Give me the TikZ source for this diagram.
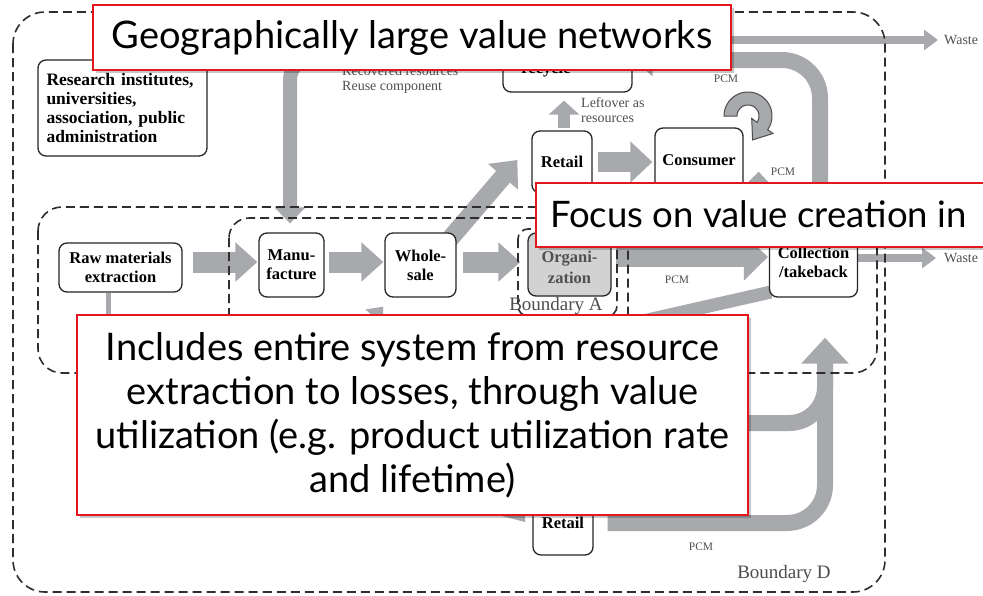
\documentclass[tikz,border=0pt]{standalone}
\usepackage{fontspec}
\setmainfont{Liberation Serif}
\newfontfamily\latofont{Lato}
\usetikzlibrary{arrows.meta,shadows,calc}
\pgfdeclarelayer{bg}
\pgfsetlayers{bg,main}
\definecolor{bandgray}{HTML}{A7A9AC}
\definecolor{bndgray}{HTML}{2E2E2E}
\definecolor{lblgray}{HTML}{505050}
\definecolor{calred}{HTML}{E3161E}
\definecolor{orgfill}{HTML}{D2D2D2}
\begin{document}
\begin{tikzpicture}[x=1pt,y=-1pt,
  box/.style={draw=black!85, line width=1.3pt, rounded corners=8pt, fill=white,
    font=\fontsize{16.5}{19}\selectfont\bfseries, align=center, inner sep=0pt},
  bound/.style={draw=bndgray, line width=1.6pt, dash pattern=on 9pt off 5pt},
  flow/.style={draw=bandgray},
  lab/.style={text=lblgray, font=\fontsize{14}{15}\selectfont, inner sep=0pt, align=left},
  pcm/.style={text=lblgray, font=\fontsize{11.5}{12}\selectfont, inner sep=0pt},
  bndlab/.style={text=bndgray!85, font=\fontsize{19}{20}\selectfont, inner sep=0pt},
  callfont/.style={font=\latofont\fontsize{38}{44}\selectfont, align=center, text=black},
  callout/.style={draw=calred, line width=2pt, fill=white,
    drop shadow={shadow xshift=3pt, shadow yshift=-3pt, opacity=0.22, fill=black},
    callfont},
]
\useasboundingbox (0,0) rectangle (983,595);
\begin{pgfonlayer}{bg}
\fill[white] (0,0) rectangle (983,595);
\end{pgfonlayer}

% boundaries
\draw[bound, rounded corners=32pt] (13,12) rectangle (885,592);
\draw[bound, rounded corners=24pt] (38,207) rectangle (877,373);
\draw[bound, rounded corners=20pt] (229,218) rectangle (628,345);
\draw[bound, rounded corners=10pt] (518,229) rectangle (617,316);

% nodes
\node[box, minimum width=169pt, minimum height=96pt, text width=152pt, align=left,
  font=\fontsize{17.5}{19.3}\selectfont\bfseries] (research) at (122.5,108) {Research institutes,\\universities,\\association, public\\administration};
\node[box, minimum width=123pt, minimum height=49pt] (raw) at (120.5,267.5) {Raw materials\\extraction};
\node[box, minimum width=65pt, minimum height=64pt] (manu) at (291.5,265) {Manu-\\facture};
\node[box, minimum width=71pt, minimum height=64pt] (whole) at (420.5,265) {Whole-\\sale};
\node[box, fill=orgfill, text=lblgray, minimum width=83pt, minimum height=63pt,
  font=\fontsize{16.5}{21}\selectfont\bfseries] (org) at (569.5,264.5) {};
\node[box, draw=none, fill=none, text=lblgray, font=\fontsize{16.5}{21}\selectfont\bfseries] (orgtext) at (569.5,267) {Organi-\\zation};
\node[box, minimum width=60pt, minimum height=62pt] (retailA) at (562,162) {Retail};
\node[box, minimum width=88pt, minimum height=64pt] (consumer) at (699,160) {Consumer};
\node[box, minimum width=129pt, minimum height=60pt] (recycle) at (567.5,62) {};
\node[box, draw=none, fill=none, anchor=base] (rectext) at (546,73) {recycle};
\node[box, minimum width=88pt, minimum height=70pt] (collect) at (813.5,262) {Collection\\/takeback};
\node[box, minimum width=60pt, minimum height=64pt] (retailB) at (563,523) {Retail};

% labels
\node[lab, anchor=west] (leftover) at (581,110) {Leftover as\\resources};
\node[lab, anchor=west] (recovered) at (342,80) {Recovered resources\\Reuse component};
\node[pcm] (pcm1) at (726,79) {PCM};
\node[pcm] (pcm2) at (783,172) {PCM};
\node[pcm] (pcm3) at (677,280) {PCM};
\node[pcm] (pcm4) at (701,547) {PCM};
\node[bndlab] (bA) at (556,306) {Boundary A};
\node[bndlab] (bD) at (784,574) {Boundary D};
\node[lab, anchor=west] (waste1) at (944,40) {Waste};
\node[lab, anchor=west] (waste2) at (944,258) {Waste};

% flows
\begin{pgfonlayer}{bg}
\coordinate (rowy) at (0,262);
\coordinate (ocy) at (0,257);
\draw[flow, line width=21pt, -{Triangle[width=38pt,length=22pt]}] ($(raw.east |- rowy)+(10,0)$) -- ($(manu.west |- rowy)+(-1,0)$);
\draw[flow, line width=21pt, -{Triangle[width=38pt,length=22pt]}] ($(manu.east |- rowy)+(4,0)$) -- ($(whole.west |- rowy)+(-1,0)$);
\draw[flow, line width=21pt, -{Triangle[width=38pt,length=22pt]}] ($(whole.east |- rowy)+(6,0)$) -- ($(org.west |- rowy)+(-7,0)$);
\draw[flow, line width=18pt, -{Triangle[width=38pt,length=22pt]}] ($(whole.north east)+(-8,8)$) -- ($(retailA.west)+(-14,-2)$);
\draw[flow, line width=20pt, -{Triangle[width=40pt,length=22pt]}] ($(retailA.east)+(5,0)$) -- ($(consumer.west |- retailA.east)+(-2,0)$);
\draw[flow, line width=12pt, -{Triangle[width=30pt,length=14pt]}] ($(retailA.north)+(2,-2)$) -- ($(recycle.south)+(-3.5,8)$);
\draw[flow, line width=14pt, rounded corners=22pt, -{Triangle[width=30pt,length=16pt]}] ($(recycle.west)+(0,-4)$) -| ($(manu.north)+(-1.5,-9)$);
\draw[flow, line width=16pt, rounded corners=38pt, -{Triangle[width=32pt,length=18pt]}] ($(collect.north)+(6.5,0)$) |- ($(recycle.east)+(2,-2)$);
\coordinate (w1s) at (700,40);
\draw[flow, line width=8pt, -{Triangle[width=20pt,length=14pt]}, shorten >=6pt] (w1s) -- (waste1.west);
\draw[flow, line width=8pt, -{Triangle[width=20pt,length=14pt]}, shorten >=8pt] (collect.east |- waste2.west) -- (waste2.west);
\draw[flow, line width=20pt, -{Triangle[width=46pt,length=24pt]}] ($(org.east |- ocy)+(4,0)$) -- ($(collect.west |- ocy)+(-1,0)$);
\coordinate (diagS) at (590,333);
\draw[flow, line width=13pt] (diagS) -- ($(collect.west)+(2,30)$);
\draw[flow, line width=16pt, rounded corners=38pt, -{Triangle[width=46pt,length=26pt]}, shorten <=14pt] (retailB.east) -| ($(collect.south)+(11.5,40)$);
\coordinate (midL) at (690,423);
\draw[flow, line width=16pt, rounded corners=36pt] (midL) -| ($(collect.south)+(11.5,80)$);
\draw[flow, line width=5pt] ($(raw.south)+(-12.5,0)$) -- ++(0,40);
\coordinate (wsS) at (340,355);
\draw[flow, line width=10pt, -{Triangle[width=22pt,length=14pt]}] (wsS) -- ($(whole.south west)+(-1,9)$);
\draw[flow, line width=10pt, -{Triangle[width=24pt,length=13pt]}] ($(collect.north west)+(-11,0)$) -- ($(consumer.south east)+(15,-21)$);
\fill[bandgray] (498,515) -- (525,515) -- (525,522) -- cycle;
\end{pgfonlayer}

% circular arrow above consumer
\filldraw[fill=bandgray, draw=black!70, line width=1pt]
  plot[domain=180:395, samples=40] ({748+24*cos(\x)},{116+24*sin(\x)})
  -- (772.9,133.5) -- (752.6,139.9) -- (751.7,118.5)
  -- plot[domain=395:180, samples=40] ({748+11*cos(\x)},{116+11*sin(\x)}) -- cycle;

% callouts
\node[callout, minimum width=638pt, minimum height=65pt] (c1) at (412,37.5) {Geographically large value networks};
\node[callout, anchor=north west, minimum width=470pt, minimum height=64pt] (c2) at (535,182) {};
\node[callfont, anchor=west, inner sep=0pt, font=\latofont\fontsize{36.5}{44}\selectfont] (c2text) at (550,214) {Focus on value creation in};
\node[callout, minimum width=671pt, minimum height=200pt] (c3) at (412.5,415) {Includes entire system from resource\\extraction to losses, through value\\utilization (e.g. product utilization rate\\and lifetime)};
\end{tikzpicture}
\end{document}
